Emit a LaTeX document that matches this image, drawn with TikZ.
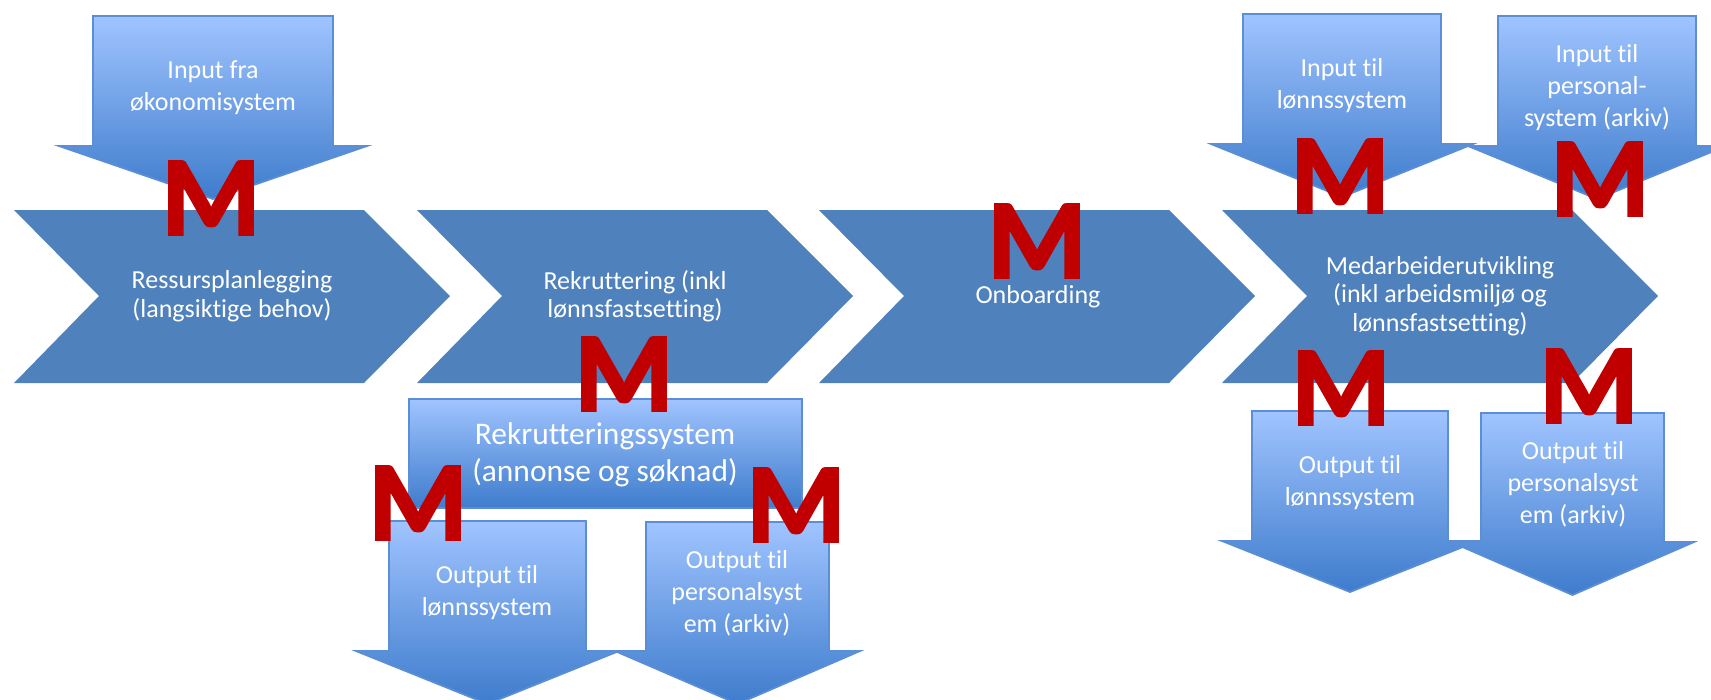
\documentclass[tikz,border=0pt]{standalone}
\usepackage{fontspec}
\setmainfont{Carlito}[Ligatures=NoCommon]
\newfontfamily\mfont{Carlito}[BoldFeatures={FakeBold=2.5}]
\usepackage{tikz}
\definecolor{chevblue}{HTML}{4F81BD}
\definecolor{arrowtop}{HTML}{A0C4FF}
\definecolor{arrowbot}{HTML}{3E7CCC}
\definecolor{arrowline}{HTML}{5B8ED6}
\definecolor{mred}{HTML}{C00000}

\begin{document}
\begin{tikzpicture}[x=0.2mm, y=-0.2mm,
    chev/.style={fill=chevblue},
    box/.style={draw=arrowline, line width=1pt, top color=arrowtop, bottom color=arrowbot},
    txt/.style={text=white, align=center, font=\fontsize{14.8}{18.2}\selectfont},
    chevtxt/.style={text=white, align=center, font=\fontsize{14.8}{16.2}\selectfont},
    mletter/.style={text=mred, inner sep=0pt, font=\fontsize{64}{64}\mfont\bfseries}]
    \useasboundingbox (0,0) rectangle (1711,699);
    % process chevrons
    \fill[chev] (14,210) -- ++(350,0) -- ++(86,86) -- ++(-86,87) -- ++(-350,0) -- ++(85,-87) -- cycle;
    \fill[chev] (417,210) -- ++(350,0) -- ++(86,86) -- ++(-86,87) -- ++(-350,0) -- ++(85,-87) -- cycle;
    \fill[chev] (819,210) -- ++(350,0) -- ++(86,86) -- ++(-86,87) -- ++(-350,0) -- ++(85,-87) -- cycle;
    \fill[chev] (1222,210) -- ++(350,0) -- ++(86,86) -- ++(-86,87) -- ++(-350,0) -- ++(85,-87) -- cycle;
    \node[chevtxt] (ressurs) at (232,296) {Ressursplanlegging\\(langsiktige behov)};
    \node[chevtxt] (rekrutt) at (635,296) {Rekruttering (inkl\\lønnsfastsetting)};
    \node[chevtxt] (onboard) at (1038,297) {Onboarding};
    \node[chevtxt] (medarb) at (1440,296) {Medarbeiderutvikling\\(inkl arbeidsmiljø og\\lønnsfastsetting)};
    % input arrows
    \draw[box] (93,16) -- ++(240,0) -- ++(0,130) -- ++(34,0) -- ++(-154,53) -- ++(-154,-53) -- ++(34,0) -- cycle;
    \draw[box] (1243,14) -- ++(198,0) -- ++(0,130) -- ++(32,0) -- ++(-131,53) -- ++(-131,-53) -- ++(32,0) -- cycle;
    \draw[box] (1498,16) -- ++(198,0) -- ++(0,130) -- ++(30,0) -- ++(-129,53) -- ++(-129,-53) -- ++(30,0) -- cycle;
    \node[txt] (inoko) at (213,88) {Input fra\\økonomisystem};
    \node[txt] (inlonn) at (1342,86) {Input til\\lønnssystem};
    \node[txt] (inpers) at (1597,88) {Input til\\personal-\\system (arkiv)};
    % recruitment system and outputs
    \draw[box] (409,399) rectangle (802,508);
    \node[txt, font=\fontsize{17.9}{21}\selectfont] (reksys) at (605,455) {Rekrutteringssystem\\(annonse og søknad)};
    \draw[box] (389,521) -- ++(197,0) -- ++(0,130) -- ++(33,0) -- ++(-131.5,53) -- ++(-131.5,-53) -- ++(33,0) -- cycle;
    \draw[box] (646,522) -- ++(183,0) -- ++(0,129) -- ++(31,0) -- ++(-122.5,53) -- ++(-122.5,-53) -- ++(31,0) -- cycle;
    \node[txt] (outlonnA) at (487,593) {Output til\\lønnssystem};
    \node[txt] (outpersA) at (737,593) {Output til\\personalsyst\\em (arkiv)};
    \draw[box] (1252,411) -- ++(196,0) -- ++(0,130) -- ++(30,0) -- ++(-128,51) -- ++(-128,-51) -- ++(30,0) -- cycle;
    \draw[box] (1481,413) -- ++(183,0) -- ++(0,129) -- ++(30,0) -- ++(-121.5,53) -- ++(-121.5,-53) -- ++(30,0) -- cycle;
    \node[txt] (outlonnB) at (1350,483) {Output til\\lønnssystem};
    \node[txt] (outpersB) at (1573,484) {Output til\\personalsyst\\em (arkiv)};
    % M markers
    \node[mletter] (mA) at (211,198) {M};
    \node[mletter] (mB) at (624,374) {M};
    \node[mletter] (mC) at (418,503) {M};
    \node[mletter] (mD) at (796,505) {M};
    \node[mletter] (mE) at (1037,241) {M};
    \node[mletter] (mF) at (1340,176) {M};
    \node[mletter] (mG) at (1600,179) {M};
    \node[mletter] (mH) at (1341,388) {M};
    \node[mletter] (mI) at (1589,386) {M};
\end{tikzpicture}
\end{document}
